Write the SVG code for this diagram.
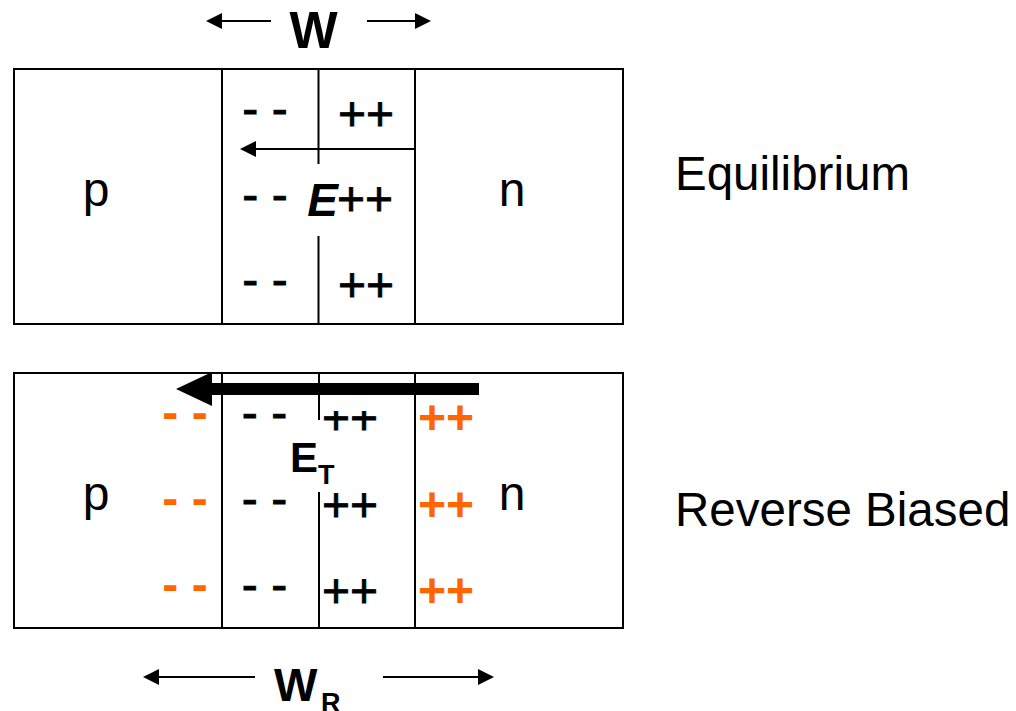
<svg xmlns="http://www.w3.org/2000/svg" width="1016" height="711" viewBox="0 0 1016 711">
<style>
.box{fill:#fff;stroke:#000;stroke-width:2}
.ln{stroke:#000;stroke-width:2;fill:none}
.t{font-family:"Liberation Sans",Arial,sans-serif;font-size:48px;fill:#000;text-anchor:middle}
.c{stroke:#000;stroke-width:0.8}
.lab{font-family:"Liberation Sans",Arial,sans-serif;font-size:47.5px;fill:#000}
.b{font-weight:bold}
.or{fill:#FF6600;font-weight:bold}
.s{text-anchor:start}
</style>
<defs>
<marker id="ah" viewBox="0 0 16 16" refX="0" refY="8" markerWidth="16" markerHeight="16" markerUnits="userSpaceOnUse" orient="auto">
<path d="M0,0 L16,8 L0,16 Z" fill="#000"/>
</marker>
<clipPath id="cl1"><rect x="300" y="411" width="120" height="40"/></clipPath>
</defs>

<g id="top-width">
<line class="ln" x1="271" y1="21" x2="222" y2="21" marker-end="url(#ah)"/>
<line class="ln" x1="367" y1="21" x2="415" y2="21" marker-end="url(#ah)"/>
<text class="t b" x="313.5" y="48" style="font-size:51px">W</text>
</g>

<g id="equilibrium">
<rect class="box" x="14" y="69" width="609" height="255"/>
<line class="ln" x1="222" y1="69" x2="222" y2="324"/>
<line class="ln" x1="415" y1="69" x2="415" y2="324"/>
<line class="ln" x1="318.5" y1="69" x2="318.5" y2="164"/>
<line class="ln" x1="318.5" y1="236" x2="318.5" y2="324"/>
<text class="t" x="96" y="206">p</text>
<text class="t" x="512" y="206">n</text>
<text class="t c" x="265" y="125">- -</text>
<text class="t c" x="366" y="130">++</text>
<text class="t c" x="265" y="211">- -</text>
<text class="t c" x="365" y="215">++</text>
<text class="t c" x="265" y="296">- -</text>
<text class="t c" x="366" y="301">++</text>
<text class="t b" x="322.5" y="216" style="font-size:46px;font-style:italic">E</text>
</g>

<g id="reverse">
<rect class="box" x="14" y="373" width="609" height="255"/>
<line class="ln" x1="222" y1="373" x2="222" y2="628"/>
<line class="ln" x1="415" y1="373" x2="415" y2="628"/>
<line class="ln" x1="319" y1="373" x2="319" y2="420"/>
<line class="ln" x1="319" y1="492" x2="319" y2="628"/>
<text class="t" x="96" y="510">p</text>
<text class="t" x="512" y="510">n</text>
<text class="t or" x="185" y="429">- -</text>
<text class="t or" x="185" y="515">- -</text>
<text class="t or" x="185" y="601">- -</text>
<text class="t c" x="264.5" y="429">- -</text>
<text class="t c" x="264.5" y="515">- -</text>
<text class="t c" x="264.5" y="601">- -</text>
<text class="t c" x="350" y="434" clip-path="url(#cl1)">++</text>
<text class="t c" x="350" y="521">++</text>
<text class="t c" x="350" y="607">++</text>
<text class="t or" x="446" y="434">++</text>
<text class="t or" x="446" y="521">++</text>
<text class="t or" x="446" y="607">++</text>
<text class="t b s" x="290" y="472" style="font-size:42px">E</text>
<text class="t b s" x="318" y="484" style="font-size:27px">T</text>
</g>

<g id="connectors">
<line class="ln" x1="415" y1="149" x2="256" y2="149" marker-end="url(#ah)"/>
<polygon points="479,383 212,383 212,372 176,389 212,406 212,395 479,395" fill="#000"/>
</g>

<g id="bottom-width">
<line class="ln" x1="255" y1="677" x2="159" y2="677" marker-end="url(#ah)"/>
<line class="ln" x1="383" y1="677" x2="478" y2="677" marker-end="url(#ah)"/>
<text class="t b s" x="274" y="701" style="font-size:46px">W</text>
<text class="t b s" x="321" y="712" style="font-size:27px">R</text>
</g>

<g id="labels">
<text class="lab" x="675" y="190">Equilibrium</text>
<text class="lab" x="675" y="526">Reverse Biased</text>
</g>
</svg>
